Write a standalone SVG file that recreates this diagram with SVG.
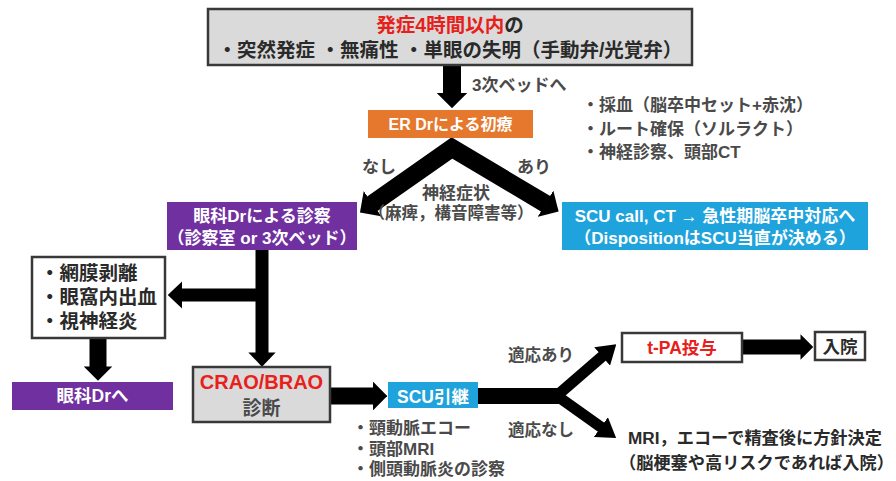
<svg xmlns="http://www.w3.org/2000/svg" width="896" height="481" viewBox="0 0 896 481">
<defs>
<style>
text { font-family: 'Liberation Sans', 'Noto Sans CJK JP', sans-serif; font-weight: bold; }
.c { text-anchor: middle; }
.w { fill: #ffffff; }
.k { fill: #2a2a2a; }
.g { fill: #4a4a4a; }
.r { fill: #E8201A; }
.bx { stroke: #383838; stroke-width: 2.5; }
.gray { fill: #DADADA; }
.white { fill: #ffffff; }
.purple { fill: #7030A0; }
.blue { fill: #1FA3DC; }
.orange { fill: #E5782C; }
.ar { fill: none; stroke: #000; stroke-linejoin: miter; stroke-miterlimit: 10; }
</style>
<marker id="ah" viewBox="0 0 10 10" preserveAspectRatio="none" markerUnits="strokeWidth" markerWidth="0.85" markerHeight="1.7" refX="0.4" refY="5" orient="auto-start-reverse"><path d="M0,0 L10,5 L0,10 z" fill="#000"/></marker>
<marker id="ahw" viewBox="0 0 10 10" preserveAspectRatio="none" markerUnits="strokeWidth" markerWidth="1.1" markerHeight="2.1" refX="0.4" refY="5" orient="auto"><path d="M0,0 L10,5 L0,10 z" fill="#000"/></marker>
<marker id="ahb" viewBox="0 0 10 10" preserveAspectRatio="none" markerUnits="strokeWidth" markerWidth="1.7" markerHeight="2.2" refX="0.4" refY="5" orient="auto"><path d="M0,0 L10,5 L0,10 z" fill="#000"/></marker>
</defs>

<rect width="896" height="481" fill="#ffffff"/>

<g id="connectors">
  <path class="ar" d="M452 65 L452 93.5" stroke-width="18" marker-end="url(#ah)"/>
  <path class="ar" d="M372 204 L452 148 L546 204" stroke-width="18" marker-start="url(#ah)" marker-end="url(#ah)"/>
  <path class="ar" d="M262 250 L262 353" stroke-width="13" marker-end="url(#ahw)"/>
  <path class="ar" d="M268 295 L181.5 295" stroke-width="13" marker-end="url(#ahw)"/>
  <path class="ar" d="M98 338 L98 367" stroke-width="17" marker-end="url(#ah)"/>
  <path class="ar" d="M330 396 L373.5 396" stroke-width="17" marker-end="url(#ah)"/>
  <path class="ar" d="M478 396 L560 396" stroke-width="16"/>
  <path class="ar" d="M553 399 L602.7 356" stroke-width="11" marker-end="url(#ahb)"/>
  <path class="ar" d="M553 393 L601.5 427.5" stroke-width="11" marker-end="url(#ahb)"/>
  <path class="ar" d="M742 347 L801 347" stroke-width="15" marker-end="url(#ah)"/>
</g>

<g id="labels">
  <text class="g" x="472" y="91" font-size="17">3次ベッドへ</text>
  <text class="g" x="362" y="173" font-size="17">なし</text>
  <text class="g" x="517" y="173" font-size="17">あり</text>
  <text class="g c" x="456" y="199" font-size="17">神経症状</text>
  <text class="g c" x="451" y="219" font-size="16.5">（麻痺，構音障害等）</text>
  <text class="g" x="508" y="361" font-size="16.5">適応あり</text>
  <text class="g" x="508" y="436" font-size="16.5">適応なし</text>
</g>

<g id="n-onset">
  <rect class="bx gray" x="208" y="9" width="484" height="56"/>
  <text class="c" x="450" y="32" font-size="19.5"><tspan class="r">発症4時間以内</tspan><tspan class="k">の</tspan></text>
  <text class="c k" x="450" y="57" font-size="19.5">・突然発症 ・無痛性 ・単眼の失明（手動弁/光覚弁）</text>
</g>

<g id="n-er">
  <rect class="orange" x="368" y="110" width="165" height="28"/>
  <text class="c w" x="450.5" y="130" font-size="16">ER Drによる初療</text>
</g>

<g id="n-er-notes">
  <text class="g" x="582" y="111" font-size="17">・採血（脳卒中セット+赤沈）</text>
  <text class="g" x="582" y="135" font-size="17">・ルート確保（ソルラクト）</text>
  <text class="g" x="582" y="158" font-size="17">・神経診察、頭部CT</text>
</g>

<g id="n-ophth">
  <rect class="purple" x="167" y="202" width="190" height="48"/>
  <text class="c w" x="262" y="221.5" font-size="17">眼科Drによる診察</text>
  <text class="c w" x="262" y="243.5" font-size="17">（診察室 or 3次ベッド）</text>
</g>

<g id="n-scu-call">
  <rect class="blue" x="562" y="202" width="306" height="48"/>
  <text class="c w" x="715" y="221.5" font-size="17">SCU call, CT → 急性期脳卒中対応へ</text>
  <text class="c w" x="715" y="243.5" font-size="17">（DispositionはSCU当直が決める）</text>
</g>

<g id="n-other">
  <rect class="bx white" x="32" y="257" width="133" height="81"/>
  <text class="k" x="40" y="280" font-size="19.5">・網膜剥離</text>
  <text class="k" x="40" y="304" font-size="19.5">・眼窩内出血</text>
  <text class="k" x="40" y="328" font-size="19.5">・視神経炎</text>
</g>

<g id="n-to-ophth">
  <rect class="purple" x="12" y="382" width="161" height="28"/>
  <text class="c w" x="92.5" y="402" font-size="17.5">眼科Drへ</text>
</g>

<g id="n-crao">
  <rect class="bx gray" x="193" y="367" width="137" height="55"/>
  <text class="c r" x="261.5" y="388.5" font-size="20">CRAO/BRAO</text>
  <text class="c g" x="261.5" y="415" font-size="19">診断</text>
</g>

<g id="n-scu">
  <rect class="blue" x="388" y="382" width="90" height="26"/>
  <text class="c w" x="433" y="402.5" font-size="17.5">SCU引継</text>
</g>

<g id="n-scu-notes">
  <text class="g" x="352" y="434" font-size="17">・頸動脈エコー</text>
  <text class="g" x="352" y="455" font-size="17">・頭部MRI</text>
  <text class="g" x="352" y="475" font-size="17">・側頭動脈炎の診察</text>
</g>

<g id="n-tpa">
  <rect class="bx white" x="622" y="333" width="120" height="29"/>
  <text class="c r" x="682" y="354" font-size="17.5">t-PA投与</text>
</g>

<g id="n-admit">
  <rect class="bx white" x="815" y="332" width="50" height="28"/>
  <text class="c k" x="840" y="352.5" font-size="17.5">入院</text>
</g>

<g id="n-mri">
  <text class="k" x="628" y="444" font-size="17.2">MRI，エコーで精査後に方針決定</text>
  <text class="k" x="619" y="469" font-size="17.2">（脳梗塞や高リスクであれば入院）</text>
</g>
</svg>
